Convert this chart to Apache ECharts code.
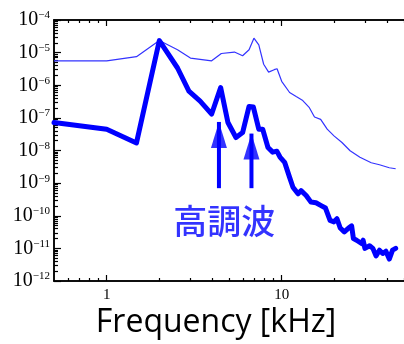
<!DOCTYPE html>
<html><head><meta charset="utf-8">
<script src="https://cdn.jsdelivr.net/npm/echarts@6/dist/echarts.min.js"></script>
<style>html,body{margin:0;padding:0;background:#fff}#c{width:404px;height:344px}</style>
</head><body><div id="c"></div><script>
// Thin (upper) spectrum
const freqThin = [0.5, 1.0, 1.48, 2.0, 2.54, 3.01, 3.98, 4.52, 5.37, 5.98, 6.51, 6.94, 7.40, 7.89, 8.42, 9.06, 9.41, 10.0, 11.1, 12.1, 13.2, 14.4, 15.4, 16.7, 18.2, 19.9, 22.1, 24.6, 28.0, 32.5, 36.2, 41.2, 44.8];
const psdThin = [5.6e-6, 5.6e-6, 7.5e-6, 2.34e-5, 1.22e-5, 6.8e-6, 5.6e-6, 9.4e-6, 1.04e-5, 8.0e-6, 1.22e-5, 2.77e-5, 1.73e-5, 4.4e-6, 2.52e-6, 3.0e-6, 3.2e-6, 1.32e-6, 6.0e-7, 4.5e-7, 3.4e-7, 2.05e-7, 1.06e-7, 9.0e-8, 4.5e-8, 2.8e-8, 1.76e-8, 9.8e-9, 6.2e-9, 4.2e-9, 3.65e-9, 2.96e-9, 2.76e-9];
// Thick (lower) spectrum
const freqThick = [0.5, 1.0, 1.48, 2.0, 2.54, 2.95, 3.42, 3.98, 4.48, 4.93, 5.48, 5.98, 6.51, 6.89, 7.40, 7.79, 8.35, 8.89, 9.38, 9.78, 10.4, 11.1, 11.6, 12.4, 12.9, 13.8, 14.7, 15.7, 16.7, 17.8, 18.9, 19.9, 20.7, 21.6, 22.8, 24.1, 25.1, 25.7, 26.8, 28.6, 29.2, 29.9, 31.8, 33.2, 34.6, 36.2, 37.8, 39.4, 41.2, 43.0, 44.8];
const psdThick = [7.2e-8, 4.5e-8, 1.71e-8, 2.34e-5, 3.38e-6, 6.56e-7, 3.25e-7, 1.31e-7, 8.5e-7, 7.2e-8, 2.5e-8, 3.55e-8, 2.24e-7, 2.14e-7, 4.5e-8, 4.5e-8, 1.24e-8, 8.9e-9, 9.55e-9, 6.3e-9, 4.33e-9, 1.5e-9, 7.5e-10, 4.7e-10, 5.9e-10, 4.17e-10, 2.62e-10, 2.5e-10, 2.07e-10, 1.72e-10, 7.2e-11, 6.5e-11, 8.1e-11, 4.2e-11, 3.2e-11, 4.2e-11, 4.9e-11, 2.0e-11, 1.78e-11, 1.41e-11, 1.78e-11, 1.0e-11, 1.2e-11, 1.0e-11, 5.9e-12, 8.8e-12, 7.0e-12, 8.2e-12, 4.7e-12, 8.8e-12, 1.0e-11];
// Tick labels / ticks
const xMajorTicks = [1, 10];
const xMinorTicks = [0.6, 0.7, 0.8, 0.9, 2, 3, 4, 5, 6, 7, 8, 9, 20, 30, 40, 50];
const yExponents = [-12, -11, -10, -9, -8, -7, -6, -5, -4];
// Annotation arrows (harmonics)
const arrowFreq = [4.38, 6.72];
const arrowTip = [7.5e-8, 3.3e-8];
const arrowBase = 7.0e-10;
const annotationText = '高調波';
const annotationPos = [4.69, 7e-11];
const xName = 'Frequency [kHz]';

const yMajorTicks = yExponents.map(e => parseFloat('1e' + e));
const yMinorTicks = [];
yExponents.slice(0, -1).forEach(e => { for (let k = 2; k <= 9; k++) yMinorTicks.push(parseFloat(k + 'e' + e)); });

const X_MIN = 0.5, X_MAX = 50, Y_MIN = 1e-12, Y_MAX = 1e-4;
const axisLineStyle = { color: '#000', width: 1.5 };

function xAxisDef(pos, ticks, len, showLabel, extra) {
  return Object.assign({
    type: 'log', logBase: 10, min: X_MIN, max: X_MAX, position: pos,
    axisLine: { show: true, lineStyle: axisLineStyle },
    axisTick: { show: true, inside: true, length: len, customValues: ticks, lineStyle: { color: '#000', width: 1.2 } },
    axisLabel: showLabel ? { show: true, customValues: ticks, fontFamily: 'Liberation Serif', fontSize: 15, color: '#000', margin: 7 } : { show: false },
    splitLine: { show: false }, minorTick: { show: false }
  }, extra || {});
}
function yAxisDef(ticks, len, showLabel) {
  return {
    type: 'log', logBase: 10, min: Y_MIN, max: Y_MAX, position: 'left',
    axisLine: { show: true, lineStyle: axisLineStyle },
    axisTick: { show: true, inside: true, length: len, customValues: ticks, lineStyle: { color: '#000', width: 1.2 } },
    axisLabel: showLabel ? {
      show: true, customValues: ticks, margin: 4,
      formatter: v => '{b|10}{s|−' + (-Math.round(Math.log10(v))) + '}',
      rich: {
        b: { fontFamily: 'Liberation Serif', fontSize: 20, color: '#000', lineHeight: 20 },
        s: { fontFamily: 'Liberation Serif', fontSize: 11, color: '#000', verticalAlign: 'top', lineHeight: 20, padding: [0, 0, 8, 0] }
      }
    } : { show: false },
    splitLine: { show: false }, minorTick: { show: false }
  };
}

const chart = echarts.init(document.getElementById('c'), null, { renderer: 'canvas' });
chart.setOption({
  animation: false,
  backgroundColor: '#fff',
  grid: { left: 54, top: 20, right: -8, bottom: 61, containLabel: false },
  xAxis: [
    xAxisDef('bottom', xMinorTicks, 3, false, {
      name: xName, nameLocation: 'middle', nameGap: 26,
      nameTextStyle: { fontFamily: 'Open Sans', fontSize: 32, color: '#000', padding: [0, 26, 0, 0] }
    }),
    xAxisDef('bottom', xMajorTicks, 6, true),
    xAxisDef('top', xMinorTicks, 3, false),
    xAxisDef('top', xMajorTicks, 6, false)
  ],
  yAxis: [
    yAxisDef(yMinorTicks, 4, false),
    yAxisDef(yMajorTicks, 7, true)
  ],
  series: [
    { type: 'line', name: 'thin', data: freqThin.map((f, i) => [f, psdThin[i]]), showSymbol: false, symbol: 'none',
      lineStyle: { color: '#3333ff', width: 1.2 }, z: 3 },
    { type: 'line', name: 'thick', data: freqThick.map((f, i) => [f, psdThick[i]]), showSymbol: false, symbol: 'none',
      lineStyle: { color: '#0000ff', width: 5, join: 'round', cap: 'round' }, z: 4 },
    ...arrowFreq.map((f, i) => ({
      type: 'line', data: [[f, arrowBase], [f, arrowTip[i]]], showSymbol: false, symbol: 'none',
      lineStyle: { color: '#0000ff', width: 4 }, z: 5
    })),
    { type: 'scatter', data: arrowFreq.map((f, i) => [f, arrowTip[i]]), symbol: 'triangle',
      symbolSize: [16, 26], symbolOffset: [0, 13], itemStyle: { color: '#0000ff' }, z: 6 },
    { type: 'scatter', data: [annotationPos], symbolSize: 0,
      label: { show: true, position: 'inside', formatter: annotationText,
        fontFamily: 'Noto Sans CJK JP', fontWeight: 500, fontSize: 34, color: '#0000ff' }, z: 6 }
  ]
});
</script></body></html>
